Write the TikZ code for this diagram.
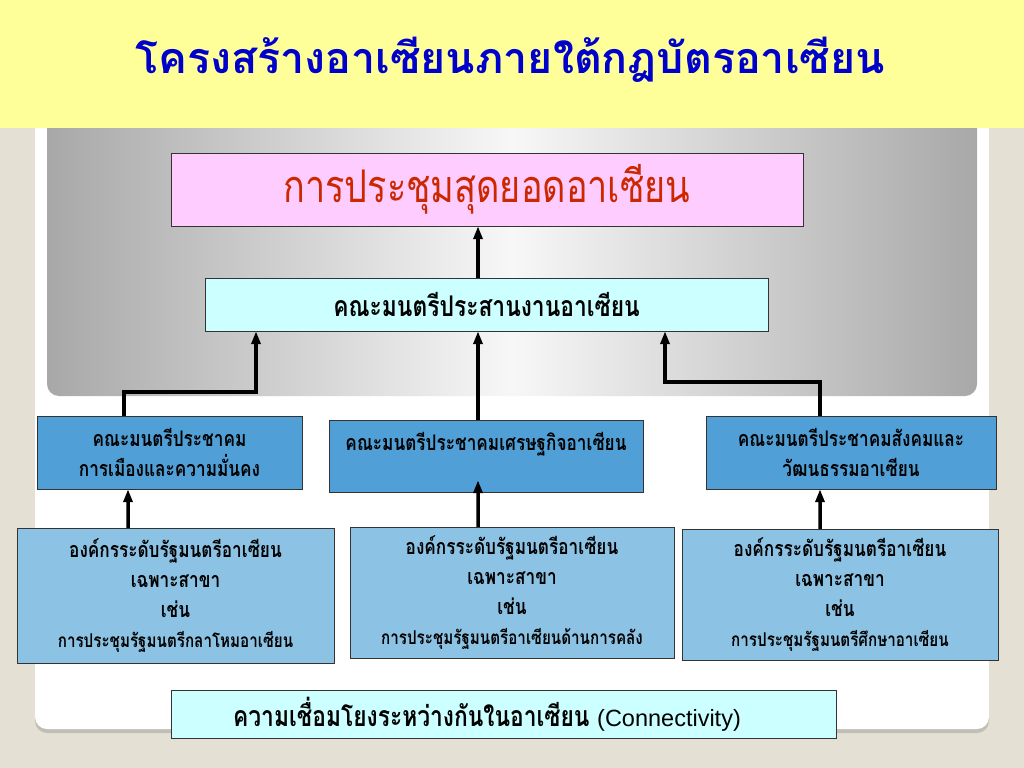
\documentclass[tikz,border=0pt]{standalone}
\usepackage{fontspec}
\newfontfamily\thaifont[Script=Thai]{Loma}
\newfontfamily\thaicond[Script=Thai,FakeStretch=0.8]{Loma}
\newfontfamily\latinfont{Liberation Sans}
\usetikzlibrary{arrows.meta,positioning,shadows}

\definecolor{bgbeige}{RGB}{228,224,212}
\definecolor{bandyellow}{RGB}{255,255,153}
\definecolor{titleblue}{RGB}{0,0,204}
\definecolor{summitred}{RGB}{204,40,0}
\definecolor{summitpink}{RGB}{255,204,255}
\definecolor{palecyan}{RGB}{204,255,255}
\definecolor{commblue}{RGB}{80,160,215}
\definecolor{minblue}{RGB}{140,195,228}
\definecolor{panelgray}{RGB}{168,168,168}

\begin{document}
\begin{tikzpicture}[x=1bp,y=-1bp]

\tikzset{summitbox/.style={fill=summitpink,draw=black!80,inner sep=0pt,minimum width=632bp,minimum height=73bp,shape=rectangle,
  font=\thaicond\fontsize{45bp}{48bp}\selectfont,text=summitred},
councilbox/.style={fill=palecyan,draw=black!80,inner sep=0pt,minimum width=563bp,minimum height=53bp,shape=rectangle,
  font=\thaicond\bfseries\fontsize{28.5bp}{32bp}\selectfont},
commbox/.style={fill=commblue,draw=black!80,inner sep=0pt,minimum height=73bp,shape=rectangle,align=center,
  font=\thaicond\bfseries\fontsize{21.5bp}{30bp}\selectfont},
minbox/.style={fill=minblue,draw=black!80,inner sep=0pt,shape=rectangle,align=center,
  font=\thaicond\bfseries\fontsize{21.5bp}{30bp}\selectfont},
up/.style={-{Triangle[length=13bp,width=9bp]},line width=3.5bp}}

% Page, title band and panels
\fill[bgbeige] (0,0) rectangle (1024,768);
\fill[white,rounded corners=12bp,drop shadow={shadow xshift=0bp,shadow yshift=-4bp,opacity=0.35}] (35,100) rectangle (989,729);
\shade[left color=panelgray,right color=panelgray,middle color=white!97!black,rounded corners=12bp] (47,100) rectangle (977,396);
\fill[bandyellow] (0,0) rectangle (1024,128);
\node (title) at (510,60) [font=\thaifont\bfseries\fontsize{43bp}{48bp}\selectfont,text=titleblue] {โครงสร้างอาเซียนภายใต้กฎบัตรอาเซียน};

% Summit and coordinating council
\node (summit) at (487,189.5) [summitbox] {การประชุมสุดยอดอาเซียน};
\node (council) at (486.5,304.5) [councilbox] {คณะมนตรีประสานงานอาเซียน};

% Community councils
\node (polsec) at (169.5,452.5) [commbox,minimum width=265bp] {คณะมนตรีประชาคม\\การเมืองและความมั่นคง};
\node (ecocom) at (486,456) [commbox,minimum width=314bp,minimum height=72bp] {คณะมนตรีประชาคมเศรษฐกิจอาเซียน\\\mbox{}};
\node (soccul) at (851,452.5) [commbox,minimum width=290bp] {คณะมนตรีประชาคมสังคมและ\\วัฒนธรรมอาเซียน};

% Sectoral ministerial bodies
\node (minl) at (175.5,595.5) [minbox,minimum width=317bp,minimum height=135bp] {องค์กรระดับรัฐมนตรีอาเซียน\\เฉพาะสาขา\\เช่น\\{\fontsize{19bp}{30bp}\selectfont การประชุมรัฐมนตรีกลาโหมอาเซียน}};
\node (minm) at (512,592.5) [minbox,minimum width=324bp,minimum height=131bp] {องค์กรระดับรัฐมนตรีอาเซียน\\เฉพาะสาขา\\เช่น\\{\fontsize{19bp}{30bp}\selectfont การประชุมรัฐมนตรีอาเซียนด้านการคลัง}};
\node (minr) at (840,594.5) [minbox,minimum width=316bp,minimum height=131bp] {องค์กรระดับรัฐมนตรีอาเซียน\\เฉพาะสาขา\\เช่น\\{\fontsize{19bp}{30bp}\selectfont การประชุมรัฐมนตรีศึกษาอาเซียน}};

% Connectivity
\node (connect) at (503.5,714) [councilbox,minimum width=665bp,minimum height=48bp] {ความเชื่อมโยงระหว่างกันในอาเซียน {\latinfont\mdseries\fontsize{23.5bp}{26bp}\selectfont(Connectivity)}\hspace*{33bp}};

% Arrows up the structure
\coordinate (lbend) at (256,392);
\coordinate (rbend) at (665,382);
\draw[up] ([xshift=-8.5bp]council.north) -- ([xshift=-9bp]summit.south);
\draw[up] ([xshift=-45.5bp]polsec.north) |- (lbend) -- (lbend |- council.south);
\draw[up] ([xshift=-8bp]ecocom.north) -- ([xshift=-8.5bp]council.south);
\draw[up] ([xshift=-31bp]soccul.north) |- (rbend) -- (rbend |- council.south);
\draw[up] ([xshift=-47.5bp]minl.north) -- ([xshift=-41.5bp]polsec.south);
\draw[up] ([xshift=-34bp]minm.north) -- ([xshift=-8bp,yshift=12bp]ecocom.south);
\draw[up] ([xshift=-20bp]minr.north) -- ([xshift=-31bp]soccul.south);

\end{tikzpicture}
\end{document}
